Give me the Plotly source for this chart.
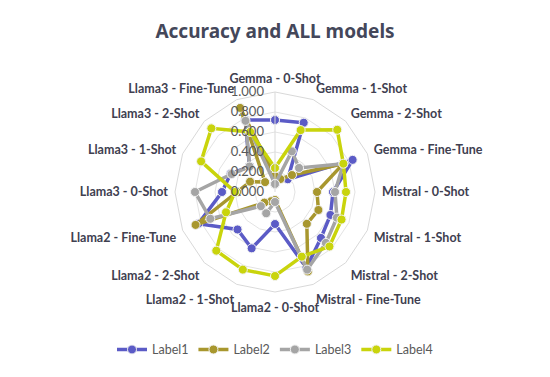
import plotly.graph_objects as go

categories = [
    "Gemma - 0-Shot", "Gemma - 1-Shot", "Gemma - 2-Shot", "Gemma - Fine-Tune",
    "Mistral - 0-Shot", "Mistral - 1-Shot", "Mistral - 2-Shot", "Mistral - Fine-Tune",
    "Llama2 - 0-Shot", "Llama2 - 1-Shot", "Llama2 - 2-Shot", "Llama2 - Fine-Tune",
    "Llama3 - 0-Shot", "Llama3 - 1-Shot", "Llama3 - 2-Shot", "Llama3 - Fine-Tune",
]

label1 = [0.72, 0.75, 0.18, 0.84, 0.58, 0.60, 0.65, 0.82,
          0.32, 0.61, 0.53, 0.83, 0.53, 0.48, 0.36, 0.78]
label2 = [0.16, 0.14, 0.24, 0.74, 0.42, 0.47, 0.45, 0.86,
          0.08, 0.10, 0.15, 0.86, 0.38, 0.27, 0.14, 0.91]
label3 = [0.08, 0.44, 0.34, 0.74, 0.60, 0.67, 0.72, 0.84,
          0.10, 0.23, 0.20, 0.70, 0.80, 0.47, 0.36, 0.77]
label4 = [0.24, 0.67, 0.88, 0.74, 0.71, 0.72, 0.77, 0.70,
          0.84, 0.84, 0.83, 0.53, 0.40, 0.80, 0.90, 0.65]

series_names = ["Label1", "Label2", "Label3", "Label4"]
series_values = [label1, label2, label3, label4]
series_colors = ["#5B5BC6", "#A8972E", "#A5A5A5", "#C9D40C"]

radial_ticks = [0.0, 0.2, 0.4, 0.6, 0.8, 1.0]

fig = go.Figure()
for name, vals, col in zip(series_names, series_values, series_colors):
    fig.add_trace(go.Scatterpolar(
        r=vals + vals[:1],
        theta=categories + categories[:1],
        mode="lines+markers",
        name=name,
        line=dict(color=col, width=3.5),
        marker=dict(size=9, color=col, line=dict(color="#F2F2F2", width=1)),
    ))

fig.update_layout(
    width=550, height=377,
    margin=dict(l=0, r=0, t=0, b=0),
    paper_bgcolor="white",
    plot_bgcolor="white",
    font=dict(family="Lato", color="#595959"),
    title=dict(
        text="<b>Accuracy and ALL models</b>",
        x=0.5, xanchor="center", y=0.918, yanchor="middle",
        font=dict(family="Noto Sans", size=19, color="#44475A"),
    ),
    polar=dict(
        domain=dict(x=[175/550, 375/550], y=[85/377, 285/377]),
        bgcolor="white",
        gridshape="linear",
        angularaxis=dict(
            rotation=90, direction="clockwise",
            tickfont=dict(size=12.5, color="#404050", family="Lato", weight="bold"),
            showline=True, linecolor="#D9D9D9", linewidth=1,
            showgrid=False,
            ticks="outside", ticklen=4, tickcolor="rgba(0,0,0,0)",
        ),
        radialaxis=dict(
            range=[0, 1], tickvals=radial_ticks, tickformat=".3f",
            angle=90, tickangle=90, side="counterclockwise",
            showline=True, linecolor="#D9D9D9",
            gridcolor="#E3E3E3",
            ticks="outside", ticklen=6, tickcolor="rgba(0,0,0,0)",
            tickfont=dict(size=13, color="#595959", family="Lato"),
        ),
    ),
    legend=dict(
        orientation="h", x=0.5, xanchor="center", y=0.072, yanchor="middle",
        font=dict(size=12.5, color="#595959", family="Lato"),
        itemwidth=30,
    ),
)

fig.write_html("out.html", config={"displayModeBar": False},
               post_script="document.body.style.margin='0';")
